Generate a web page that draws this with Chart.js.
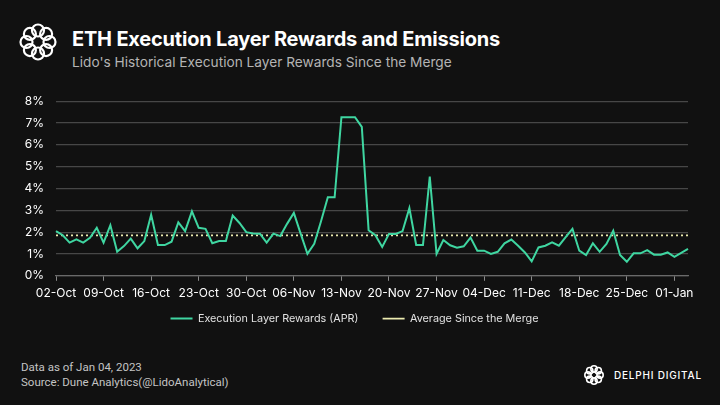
<!DOCTYPE html>
<html>
<head>
<meta charset="utf-8">
<script src="https://cdn.jsdelivr.net/npm/chart.js@4.4.0/dist/chart.umd.min.js"></script>
<style>
  html, body { margin: 0; padding: 0; background: #111111; }
  body { width: 720px; height: 405px; position: relative; overflow: hidden; font-family: Inter, "Noto Sans", sans-serif; }
  .logo { position: absolute; left: 19px; top: 23px; }
  .title { position: absolute; left: 72px; top: 27px; color: #ffffff; font-size: 20px; font-weight: 700; letter-spacing: -0.2px; white-space: nowrap; }
  .subtitle { position: absolute; left: 72px; top: 54px; color: #b4b4b4; font-size: 13.7px; white-space: nowrap; }
  .chart-box { position: absolute; left: 0; top: 81.5px; width: 720px; height: 256px; }
  .foot { position: absolute; left: 21px; color: #c4c4c4; font-family: Roboto, sans-serif; font-size: 11.5px; white-space: nowrap; }
  .brand { position: absolute; left: 584px; top: 365px; display: flex; align-items: center; }
  .brand span { color: #ffffff; font-size: 10px; letter-spacing: 0.8px; margin-left: 10px; font-weight: 500; }
</style>
</head>
<body>
<svg class="logo" width="38" height="38" viewBox="0 0 38 38">
  <g fill="none" stroke="#ffffff" stroke-width="2.2">
    <circle cx="19" cy="7.5" r="6"/>
    <circle cx="27.1" cy="10.9" r="6"/>
    <circle cx="30.5" cy="19" r="6"/>
    <circle cx="27.1" cy="27.1" r="6"/>
    <circle cx="19" cy="30.5" r="6"/>
    <circle cx="10.9" cy="27.1" r="6"/>
    <circle cx="7.5" cy="19" r="6"/>
    <circle cx="10.9" cy="10.9" r="6"/>
  </g>
</svg>
<div class="title">ETH Execution Layer Rewards and Emissions</div>
<div class="subtitle">Lido's Historical Execution Layer Rewards Since the Merge</div>

<div class="chart-box"><canvas id="rewardsChart"></canvas></div>

<div class="foot" style="top:360px;">Data as of Jan 04, 2023</div>
<div class="foot" style="top:375px;">Source: Dune Analytics(@LidoAnalytical)</div>
<div class="brand">
  <svg width="20" height="20" viewBox="0 0 38 38">
    <g fill="none" stroke="#ffffff" stroke-width="3">
      <circle cx="19" cy="7.5" r="6"/>
      <circle cx="27.1" cy="10.9" r="6"/>
      <circle cx="30.5" cy="19" r="6"/>
      <circle cx="27.1" cy="27.1" r="6"/>
      <circle cx="19" cy="30.5" r="6"/>
      <circle cx="10.9" cy="27.1" r="6"/>
      <circle cx="7.5" cy="19" r="6"/>
      <circle cx="10.9" cy="10.9" r="6"/>
    </g>
  </svg>
  <span>DELPHI DIGITAL</span>
</div>

<script>
// daily dates, 02-Oct-2022 .. 03-Jan-2023
const dayLabels = [
  '02-Oct','03-Oct','04-Oct','05-Oct','06-Oct','07-Oct','08-Oct','09-Oct','10-Oct','11-Oct',
  '12-Oct','13-Oct','14-Oct','15-Oct','16-Oct','17-Oct','18-Oct','19-Oct','20-Oct','21-Oct',
  '22-Oct','23-Oct','24-Oct','25-Oct','26-Oct','27-Oct','28-Oct','29-Oct','30-Oct','31-Oct',
  '01-Nov','02-Nov','03-Nov','04-Nov','05-Nov','06-Nov','07-Nov','08-Nov','09-Nov','10-Nov',
  '11-Nov','12-Nov','13-Nov','14-Nov','15-Nov','16-Nov','17-Nov','18-Nov','19-Nov','20-Nov',
  '21-Nov','22-Nov','23-Nov','24-Nov','25-Nov','26-Nov','27-Nov','28-Nov','29-Nov','30-Nov',
  '01-Dec','02-Dec','03-Dec','04-Dec','05-Dec','06-Dec','07-Dec','08-Dec','09-Dec','10-Dec',
  '11-Dec','12-Dec','13-Dec','14-Dec','15-Dec','16-Dec','17-Dec','18-Dec','19-Dec','20-Dec',
  '21-Dec','22-Dec','23-Dec','24-Dec','25-Dec','26-Dec','27-Dec','28-Dec','29-Dec','30-Dec',
  '31-Dec','01-Jan','02-Jan','03-Jan'
];

// execution layer rewards APR, %
const rewardsApr = [
  2.05, 1.86, 1.52, 1.67, 1.52, 1.74, 2.20, 1.52, 2.32, 1.10,
  1.36, 1.70, 1.26, 1.59, 2.80, 1.41, 1.41, 1.56, 2.45, 2.05,
  2.95, 2.20, 2.15, 1.49, 1.59, 1.59, 2.76, 2.42, 2.00, 1.94,
  1.93, 1.52, 1.93, 1.82, 2.38, 2.88, 1.93, 1.01, 1.47, 2.50,
  3.60, 3.60, 7.27, 7.27, 7.27, 6.82, 2.09, 1.86, 1.32, 1.92,
  1.92, 2.05, 3.10, 1.41, 1.41, 4.55, 1.01, 1.64, 1.40, 1.29,
  1.35, 1.75, 1.15, 1.15, 1.00, 1.10, 1.49, 1.66, 1.38, 1.07,
  0.66, 1.30, 1.38, 1.53, 1.38, 1.77, 2.15, 1.15, 0.95, 1.49,
  1.10, 1.46, 2.07, 0.95, 0.64, 1.03, 1.03, 1.18, 0.97, 0.97,
  1.07, 0.87, 1.05, 1.23
];

const averageApr = 1.85;
const averageLine = dayLabels.map(() => averageApr);

const yTicks = [0, 1, 2, 3, 4, 5, 6, 7, 8];

const ctx = document.getElementById('rewardsChart');

new Chart(ctx, {
    type: 'line',
    data: {
        labels: dayLabels,
        datasets: [{
            label: 'Execution Layer Rewards (APR)',
            data: rewardsApr,
            borderColor: '#3fd6a1',
            backgroundColor: '#3fd6a1',
            borderWidth: 2,
            pointRadius: 0,
            tension: 0,
        }, {
            label: 'Average Since the Merge',
            data: averageLine,
            borderColor: '#ecebb0',
            backgroundColor: '#ecebb0',
            borderWidth: 1.6,
            borderDash: [2, 3],
            pointRadius: 0,
        }]
    },
    options: {
        responsive: true,
        maintainAspectRatio: false,
        animation: false,
        layout: {
            padding: { left: 21, right: 32, top: 6, bottom: 4 }
        },
        plugins: {
            legend: {
                position: 'bottom',
                labels: {
                    color: '#e2e2e2',
                    font: { family: 'Inter', size: 10.8 },
                    usePointStyle: true,
                    pointStyle: 'line',
                    pointStyleWidth: 22,
                    padding: 8,
                    generateLabels: (chart) => {
                        const items = Chart.defaults.plugins.legend.labels.generateLabels(chart);
                        items[0].text += '\u2003\u2002';
                        return items;
                    }
                }
            },
            tooltip: { enabled: false }
        },
        scales: {
            y: {
                min: 0,
                max: 8,
                afterFit: (scale) => { scale.width = 35; },
                afterBuildTicks: (scale) => { scale.ticks = yTicks.map(v => ({ value: v })); },
                ticks: {
                    color: '#ffffff',
                    font: { family: 'Inter', size: 12 },
                    padding: 12,
                    callback: (v) => v + '%'
                },
                grid: {
                    color: '#474747',
                    lineWidth: 1.3,
                    drawTicks: false
                },
                border: { display: false }
            },
            x: {
                ticks: {
                    color: '#ffffff',
                    font: { family: 'Inter', size: 12 },
                    maxRotation: 0,
                    autoSkip: false,
                    padding: 5,
                    callback: function (value, index) {
                        return index % 7 === 0 ? this.getLabelForValue(value) : null;
                    }
                },
                grid: {
                    drawOnChartArea: false,
                    color: '#8a8a8a',
                    tickLength: 5
                },
                border: { color: '#6a6a6a', width: 1.3 }
            }
        }
    }
});
</script>
</body>
</html>
